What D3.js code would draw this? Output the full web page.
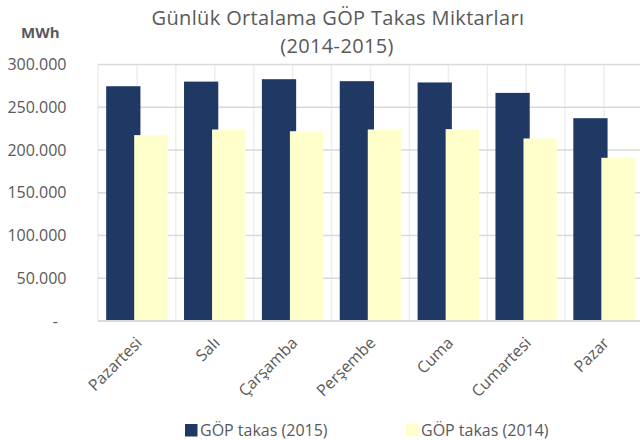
<!DOCTYPE html>
<html>
<head>
<meta charset="utf-8">
<script src="https://cdn.jsdelivr.net/npm/d3@7"></script>
<style>
  body { margin: 0; background: #fff; }
  text { font-family: "Open Sans", sans-serif; fill: #595959; }
</style>
</head>
<body>
<div id="chart"></div>
<script>
// Data
const days = ["Pazartesi", "Salı", "Çarşamba", "Perşembe", "Cuma", "Cumartesi", "Pazar"];
const takas2015 = [274600, 280000, 282800, 280500, 279000, 266800, 237200];
const takas2014 = [217400, 224000, 222000, 224000, 224400, 213500, 190900];
const yTicks = [0, 50000, 100000, 150000, 200000, 250000, 300000];
const seriesNames = ["GÖP takas (2015)", "GÖP takas (2014)"];

const W = 640, H = 440;
const margin = {top: 64.5, right: -3, bottom: 119, left: 98};
const width = W - margin.left - margin.right;
const height = H - margin.top - margin.bottom;

const colors = ["#203864", "#ffffcc"];

const svg = d3.select("#chart").append("svg")
    .attr("width", W)
    .attr("height", H);

const g = svg.append("g")
    .attr("transform", `translate(${margin.left},${margin.top})`);

// Scales
const x = d3.scaleBand()
    .domain(days)
    .range([0, width])
    .padding(0);

const y = d3.scaleLinear()
    .domain([0, 300000])
    .range([height, 0]);

const bw = x.bandwidth();

// Vertical gridlines (category edges and centres)
const vLines = [];
days.forEach(d => { vLines.push(x(d)); vLines.push(x(d) + bw / 2); });
g.selectAll(".vgrid")
  .data(vLines)
  .enter().append("line")
    .attr("x1", d => d).attr("x2", d => d)
    .attr("y1", 0).attr("y2", height)
    .attr("stroke", "#ededed")
    .attr("stroke-width", 1.5);

// Horizontal gridlines
g.selectAll(".hgrid")
  .data(yTicks.filter(t => t > 0))
  .enter().append("line")
    .attr("x1", 0).attr("x2", width)
    .attr("y1", d => y(d)).attr("y2", d => y(d))
    .attr("stroke", "#d9d9d9")
    .attr("stroke-width", 1.5);

// Bars: 2015 first, 2014 drawn on top with slight overlap
g.selectAll(".b2015")
  .data(days)
  .enter().append("rect")
    .attr("x", d => x(d) + bw * 0.105)
    .attr("y", (d, i) => y(takas2015[i]))
    .attr("width", bw * 0.44)
    .attr("height", (d, i) => height - y(takas2015[i]))
    .attr("fill", colors[0]);

g.selectAll(".b2014")
  .data(days)
  .enter().append("rect")
    .attr("x", d => x(d) + bw * 0.465)
    .attr("y", (d, i) => y(takas2014[i]))
    .attr("width", bw * 0.43)
    .attr("height", (d, i) => height - y(takas2014[i]))
    .attr("fill", colors[1]);

// Axis baseline
g.append("line")
    .attr("x1", 0).attr("x2", width)
    .attr("y1", height).attr("y2", height)
    .attr("stroke", "#d9d9d9")
    .attr("stroke-width", 2);

// Y tick labels
const fmt = v => v === 0 ? "-" : d3.format(",")(v).replace(/,/g, ".");
g.selectAll(".ylab")
  .data(yTicks)
  .enter().append("text")
    .attr("x", d => d === 0 ? -40 : -31.5)
    .attr("y", d => y(d))
    .attr("dy", "0.35em")
    .attr("text-anchor", "end")
    .attr("font-size", 16)
    .text(fmt);

// X labels, rotated
g.selectAll(".xlab")
  .data(days)
  .enter().append("text")
    .attr("transform", d => `translate(${x(d) + bw / 2 + 6},${height + 23}) rotate(-45)`)
    .attr("text-anchor", "end")
    .attr("font-size", 16)
    .text(d => d);

// Unit label
svg.append("text")
    .attr("x", 21)
    .attr("y", 38)
    .attr("font-size", 15)
    .attr("font-weight", "bold")
    .text("MWh");

// Title
svg.append("text")
    .attr("x", 338)
    .attr("y", 24.5)
    .attr("text-anchor", "middle")
    .attr("font-size", 20)
    .attr("letter-spacing", 0.35)
    .text("Günlük Ortalama GÖP Takas Miktarları");
svg.append("text")
    .attr("x", 337)
    .attr("y", 52.5)
    .attr("text-anchor", "middle")
    .attr("font-size", 20)
    .attr("letter-spacing", 0.35)
    .text("(2014-2015)");

// Legend
const legendX = [185, 406];
seriesNames.forEach((name, i) => {
  svg.append("rect")
      .attr("x", legendX[i])
      .attr("y", 424)
      .attr("width", 12.5)
      .attr("height", 12.5)
      .attr("fill", colors[i]);
  svg.append("text")
      .attr("x", legendX[i] + 15)
      .attr("y", 430.5)
      .attr("dy", "0.35em")
      .attr("font-size", 16)
      .text(name);
});
</script>
</body>
</html>
